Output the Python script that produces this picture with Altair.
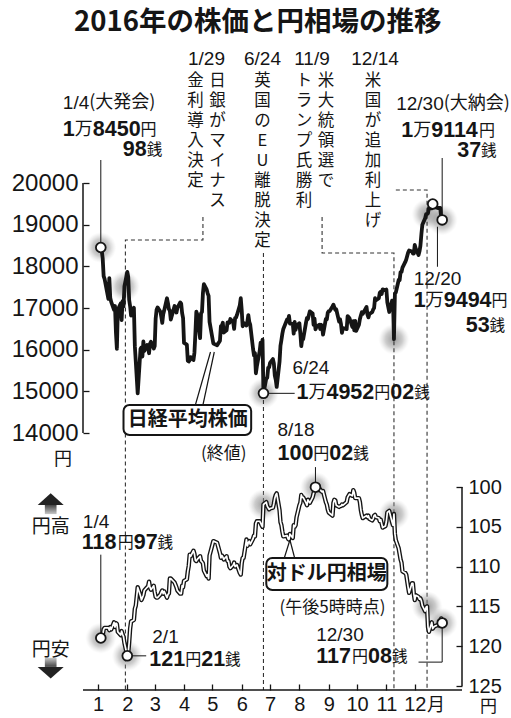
import altair as alt
import pandas as pd

LIB = "Liberation Sans"
CJK = "Noto Sans CJK JP"
INK = "#151515"

# ---------------- data ----------------
trade_dates = [
    "01-04","01-05","01-06","01-07","01-08","01-12","01-13","01-14","01-15","01-18","01-19","01-20","01-21","01-22","01-25","01-26","01-27","01-28","01-29",
    "02-01","02-02","02-03","02-04","02-05","02-08","02-09","02-10","02-12","02-15","02-16","02-17","02-18","02-19","02-22","02-23","02-24","02-25","02-26","02-29",
    "03-01","03-02","03-03","03-04","03-07","03-08","03-09","03-10","03-11","03-14","03-15","03-16","03-17","03-18","03-22","03-23","03-24","03-25","03-28","03-29","03-30","03-31",
    "04-01","04-04","04-05","04-06","04-07","04-08","04-11","04-12","04-13","04-14","04-15","04-18","04-19","04-20","04-21","04-22","04-25","04-26","04-27","04-28",
    "05-02","05-06","05-09","05-10","05-11","05-12","05-13","05-16","05-17","05-18","05-19","05-20","05-23","05-24","05-25","05-26","05-27","05-30","05-31",
    "06-01","06-02","06-03","06-06","06-07","06-08","06-09","06-10","06-13","06-14","06-15","06-16","06-17","06-20","06-21","06-22","06-23","06-24","06-27","06-28","06-29","06-30",
    "07-01","07-04","07-05","07-06","07-07","07-08","07-11","07-12","07-13","07-14","07-15","07-19","07-20","07-21","07-22","07-25","07-26","07-27","07-28","07-29",
    "08-01","08-02","08-03","08-04","08-05","08-08","08-09","08-10","08-12","08-15","08-16","08-17","08-18","08-19","08-22","08-23","08-24","08-25","08-26","08-29","08-30","08-31",
    "09-01","09-02","09-05","09-06","09-07","09-08","09-09","09-12","09-13","09-14","09-15","09-16","09-20","09-21","09-23","09-26","09-27","09-28","09-29","09-30",
    "10-03","10-04","10-05","10-06","10-07","10-11","10-12","10-13","10-14","10-17","10-18","10-19","10-20","10-21","10-24","10-25","10-26","10-27","10-28","10-31",
    "11-01","11-02","11-04","11-07","11-08","11-09","11-10","11-11","11-14","11-15","11-16","11-17","11-18","11-21","11-22","11-24","11-25","11-28","11-29","11-30",
    "12-01","12-02","12-05","12-06","12-07","12-08","12-09","12-12","12-13","12-14","12-15","12-16","12-19","12-20","12-21","12-22","12-26","12-27","12-28","12-29","12-30",
]

nikkei = [
    18450.98,18374,18191,17767,17697,17219,17715,17240,17147,16955,17048,16416,16017,16958,17110,16708,17163,17041,17518,
    17865,17750,17191,17044,16819,17004,16085,15713,14952.61,16022,16054,15836,16196,15967,16111,16052,15915,16140,16188,16026,
    16085,16746,16960,17014,16911,16783,16642,16852,16938,17233,17117,16974,16936,16724,17048,17000,16892,17002,17134,17103,16878,16758,
    16164,16123,15732,15715,15749,15821,15751,15928,16381,16911,16848,16275,16874,16906,17363,17572,17439,17353,17290,16666,
    16147,16106,16216,16565,16579,16646,16412,16466,16652,16644,16646,16736,16654,16498,16757,16772,16834,17068,17234,
    16955,16562,16642,16580,16675,16830,16668,16601,16019,15859,15919,15434,15599,15965,16169,16065,16238,14952.02,15309,15323,15566,15575,
    15682,15775,15669,15378,15276,15106,15708,16095,16231,16385,16497,16723,16681,16810,16627,16620,16383,16664,16476,16569,
    16635,16391,16083,16254,16254,16650,16764,16735,16919,16869,16596,16745,16486,16545,16598,16497,16597,16555,16360,16737,16725,16887,
    16926,16925,17037,17081,17012,16958,16965,16672,16729,16614,16405,16519,16492,16807,16754,16544,16683,16465,16693,16449,
    16598,16735,16819,16899,16860,17024,16840,16774,16856,16900,16963,16998,17235,17184,17234,17365,17391,17336,17446,17425,
    17442,17134,16905,17177,17171,16251.54,17344,17374,17672,17668,17862,17862,17967,18106,18162,18333,18381,18356,18307,18308,
    18513,18426,18274,18360,18496,18765,18996,19155,19250,19253,19273,19401,19391,19494.53,19444,19427,19396,19403,19401,19145,19114.37,
]

usdjpy = [
    118.97,119.3,118.6,117.9,117.7,117.7,118.0,117.6,117.9,117.0,117.6,117.1,117.2,118.2,118.6,118.1,118.5,118.8,119.6,
    121.21,120.8,119.5,117.8,116.9,116.7,115.3,114.9,112.6,113.7,114.2,113.9,113.6,113.0,112.6,112.5,111.9,112.6,112.9,112.4,
    113.2,113.8,113.9,113.9,113.5,113.2,113.0,113.4,113.1,113.9,113.5,113.4,111.5,111.5,112.0,112.3,112.6,113.0,113.4,113.4,112.4,112.6,
    111.8,111.6,110.6,109.9,108.5,108.7,108.0,108.4,109.2,109.3,109.1,108.7,109.3,109.4,109.6,110.5,111.2,111.0,111.5,108.6,
    106.8,107.0,108.3,108.9,108.6,108.8,109.1,108.7,109.3,109.3,110.0,110.2,109.8,109.5,110.0,109.9,109.8,110.8,111.0,
    109.6,108.9,108.9,106.6,107.4,107.0,106.8,107.2,106.5,106.1,106.2,104.6,104.3,104.3,104.5,104.8,105.0,102.2,101.9,102.4,102.6,102.8,
    102.7,102.6,102.1,101.4,101.0,100.8,102.9,104.4,104.8,105.6,106.2,106.1,106.5,106.6,105.9,106.4,104.8,105.0,104.8,103.8,
    102.3,102.0,101.0,101.3,101.3,102.0,102.3,101.6,102.0,101.3,100.8,100.5,100.02,100.3,100.4,100.3,100.5,100.6,100.5,101.9,102.2,102.8,
    103.2,103.3,103.6,102.0,101.6,101.7,102.3,102.5,102.4,102.4,102.2,102.3,101.9,101.3,100.9,101.1,100.4,100.7,101.4,101.4,
    101.4,101.9,102.9,103.5,103.9,103.6,103.8,103.6,104.0,104.2,104.0,103.6,103.5,103.8,103.9,104.3,104.1,104.6,105.1,104.9,
    104.3,103.2,103.0,104.4,104.8,103.4,105.9,106.7,107.7,108.4,109.1,109.5,110.6,110.8,111.0,112.6,113.3,112.1,112.1,113.4,
    114.2,113.6,113.8,114.1,114.0,114.3,114.9,115.6,115.1,115.0,117.6,118.2,117.0,117.8,117.6,117.5,117.3,117.4,117.4,116.5,117.08,
]

stock_ticks = [14000, 15000, 16000, 17000, 18000, 19000, 20000]
yen_ticks = [100, 105, 110, 115, 120, 125]
month_ticks = list(range(1, 13))

stock_halo_days = ["01-04", "01-29", "06-24", "11-09", "12-14", "12-30"]
stock_marker_days = ["01-04", "06-24", "12-20", "12-30"]
yen_halo_days = ["01-04", "02-01", "06-24", "08-18", "11-09", "12-14", "12-30"]
yen_marker_days = ["01-04", "02-01", "08-18", "12-30"]

title_text = "2016年の株価と円相場の推移"

# event: day, date label, label dx, [(column text, column dx)]
events = [
    ("01-29", "1/29", 82, [("日銀がマイナス", 93), ("金利導入決定", 71)]),
    ("06-24", "6/24", -1, [("英国のEU離脱決定", -1)]),
    ("11-09", "11/9", -82, [("米大統領選で", -68), ("トランプ氏勝利", -90)]),
    ("12-14", "12/14", -52, [("米国が追加利上げ", -54)]),
]

# labels pinned to data points: (day, [(start dx, dy, [(text, style), ...]), ...])
stock_notes = [
    ("01-04", [(-38, -145, [("1/4", "date"), ("(大発会)", "paren")]),
               (-38, -118, [("1", "num"), ("万", "unit"), ("8450", "num"), ("円", "yen")]),
               (22, -98, [("98", "num"), ("銭", "sen")])]),
    ("12-30", [(-46, -116, [("12/30", "date"), ("(大納会)", "paren")]),
               (-41, -89, [("1", "num"), ("万", "unit"), ("9114", "num"), ("円", "yen")]),
               (15, -69, [("37", "num"), ("銭", "sen")])]),
    ("12-20", [(-19, 75, [("12/20", "date")]),
               (-19, 97, [("1", "num"), ("万", "unit"), ("9494", "num"), ("円", "yen")]),
               (33, 122, [("53", "num"), ("銭", "sen")])]),
    ("06-24", [(29, -25, [("6/24", "date")]),
               (33, 0, [("1", "num"), ("万", "unit"), ("4952", "num"), ("円", "yen"), ("02", "num"), ("銭", "sen")])]),
]
yen_notes = [
    ("01-04", [(-18, -116, [("1/4", "date")]),
               (-19, -95, [("118", "num"), ("円", "yen"), ("97", "num"), ("銭", "sen")])]),
    ("02-01", [(25, -19, [("2/1", "date")]),
               (22, 4, [("121", "num"), ("円", "yen"), ("21", "num"), ("銭", "sen")])]),
    ("08-18", [(-38, -57, [("8/18", "date")]),
               (-38, -33, [("100", "num"), ("円", "yen"), ("02", "num"), ("銭", "sen")])]),
    ("12-30", [(-126, 12, [("12/30", "date")]),
               (-126, 34, [("117", "num"), ("円", "yen"), ("08", "num"), ("銭", "sen")])]),
]

STY = {
    "date": dict(font=LIB, fontSize=19),
    "num": dict(font=LIB, fontSize=21.5, fontWeight="bold"),
    "unit": dict(font=CJK, fontSize=18),
    "yen": dict(font=CJK, fontSize=16),
    "sen": dict(font=CJK, fontSize=15.5),
    "paren": dict(font=CJK, fontSize=18),
}


def est_width(text, style):
    fs = STY[style]["fontSize"]
    w = 0.0
    for ch in text:
        if ch.isdigit():
            w += 0.556 * fs
        elif ch == "/":
            w += 0.278 * fs
        elif ch in "()":
            w += 0.33 * fs
        else:
            w += 1.0 * fs
    return w


def ts(md, year=2016):
    return f"{year}-{md}T00:00:00"


S = dict(zip(trade_dates, nikkei))
Y = dict(zip(trade_dates, usdjpy))

# ---------------- scales & axes ----------------
xscale = alt.Scale(domain=[alt.DateTime(year=2015, month=12, date=16, hours=4),
                           alt.DateTime(year=2017, month=1, date=19, hours=23)])
sscale = alt.Scale(domain=[14000, 20000], range=[393, 143], zero=False, nice=False)
yscale = alt.Scale(domain=[100, 125], range=[447, 646], zero=False, nice=False)

xaxis = alt.Axis(values=[alt.DateTime(year=2016, month=m, date=1) for m in month_ticks],
                 labelExpr="month(datum.value)+1", orient="bottom", offset=-6, domain=False,
                 tickSize=6, tickWidth=1.3, tickColor=INK, labelFont=LIB, labelFontSize=20,
                 labelColor=INK, labelPadding=4, labelFlush=False, labelOverlap=False,
                 grid=False, title=None)
saxis = alt.Axis(values=stock_ticks, orient="left", offset=-6, domain=False, tickSize=6,
                 tickWidth=1.3, tickColor=INK, labelFont=LIB, labelFontSize=24, labelColor=INK,
                 labelPadding=5, labelFlush=False, labelOverlap=False, format="d", grid=False,
                 title=None)
yaxis = alt.Axis(values=yen_ticks, orient="right", offset=-6, domain=False, tickSize=6,
                 tickWidth=1.3, tickColor=INK, labelFont=LIB, labelFontSize=20, labelColor=INK,
                 labelPadding=6, labelFlush=False, labelOverlap=False, format="d", grid=False,
                 title=None)


def X():
    return alt.X("date:T", scale=xscale, axis=xaxis, title=None)


def YS():
    return alt.Y("v:Q", scale=sscale, axis=saxis, title=None)


def YY():
    return alt.Y("v:Q", scale=yscale, axis=yaxis, title=None)


halo = alt.RadialGradient(gradient="radial", stops=[
    alt.GradientStop(color="rgba(110,110,110,0.70)", offset=0),
    alt.GradientStop(color="rgba(140,140,140,0.45)", offset=0.55),
    alt.GradientStop(color="rgba(190,190,190,0)", offset=1)])


def pts(days, lookup):
    return pd.DataFrame({"date": [ts(d) for d in days], "v": [lookup[d] for d in days]})


def text_at(day, val, text, yenc, year=2016, align="left", baseline="middle", dx=0, dy=0, **style):
    df = pd.DataFrame({"date": [ts(day, year)], "v": [val], "t": [text]})
    return alt.Chart(df).mark_text(align=align, baseline=baseline, dx=dx, dy=dy, color=INK,
                                   **style).encode(x=X(), y=yenc(), text="t:N")


def note_layers(notes, lookup, yenc):
    out = []
    for day, lines in notes:
        for start, dy, parts in lines:
            dx = start
            for t, st in parts:
                out.append(text_at(day, lookup[day], t, yenc, dx=round(dx, 1), dy=dy, **STY[st]))
                dx += est_width(t, st)
    return out


def path_layer(rows, yenc, **style):
    df = pd.DataFrame([{"id": i, "o": j, "date": ts(d), "v": v}
                       for i, r in enumerate(rows) for j, (d, v) in enumerate(r)])
    return alt.Chart(df).mark_line(**style).encode(x=X(), y=yenc(), detail="id:N", order="o:Q")


def seg_layer(rows, yenc, **style):
    df = pd.DataFrame([{"date": ts(a), "v": b, "date2": ts(c), "v2": d} for a, b, c, d in rows])
    return alt.Chart(df).mark_rule(**style).encode(x=X(), y=yenc(), x2=alt.X2("date2"), y2=alt.Y2("v2"))


# ---------------- stock group ----------------
L = []
L.append(alt.Chart(pts(stock_halo_days, S)).mark_circle(size=950, fill=halo, opacity=1)
         .encode(x=X(), y=YS()))
# dashed event leaders
L.append(path_layer([
    [("04-21", 19184), ("04-21", 18632), ("01-30", 18632), ("01-30", 7832)],
    [("06-24", 18320), ("06-24", 7832)],
    [("08-25", 19184), ("08-25", 18320), ("11-09", 18320), ("11-09", 7832)],
    [("11-11", 19832), ("12-14", 19832), ("12-14", 7832)],
], YS, strokeDash=[4, 3], strokeWidth=1.1, color="#333"))
# solid leaders
L.append(path_layer([
    [("01-04", S["01-04"]), ("01-04", 20552)],
    [("12-30", S["12-30"]), ("12-30", 20600)],
    [("12-25", 18950), ("12-25", 17990)],
    [("06-24", S["06-24"]), ("07-27", S["06-24"])],
], YS, strokeWidth=1, color=INK))
# axis lines
L.append(alt.Chart(pd.DataFrame({"v": [14000], "v2": [20000]})).mark_rule(color=INK, strokeWidth=1.5)
         .encode(x=alt.value(0), y=YS(), y2=alt.Y2("v2")))
L.append(alt.Chart(pd.DataFrame({"v": [0]})).mark_rule(color=INK, strokeWidth=1.5)
         .encode(x=alt.value(0), x2=alt.value(379), y=alt.value(650)))
# nikkei line
L.append(alt.Chart(pd.DataFrame({"date": [ts(d) for d in trade_dates], "v": nikkei}))
         .mark_line(color=INK, strokeWidth=3.8, strokeJoin="round").encode(x=X(), y=YS()))
L.append(alt.Chart(pts(stock_marker_days, S)).mark_point(shape="circle", size=95, filled=True,
         fill="white", stroke=INK, strokeWidth=1.8, opacity=1).encode(x=X(), y=YS()))
# name box
L.append(seg_layer([("04-13", 14672, "04-29", 15944), ("04-21", 14672, "05-03", 15944)], YS,
                   color=INK, strokeWidth=1.2))
L.append(alt.Chart(pd.DataFrame({"date": [ts("01-28")], "v": [14672], "date2": [ts("06-11")], "v2": [13952]}))
         .mark_rect(fill="white", stroke=INK, strokeWidth=2, cornerRadius=6)
         .encode(x=X(), y=YS(), x2=alt.X2("date2"), y2=alt.Y2("v2")))
L.append(text_at("04-05", 14312, "日経平均株価", YS, align="center", font=CJK, fontSize=20, fontWeight="bold"))
L.append(text_at("05-13", 13496, "(終値)", YS, align="center", font=CJK, fontSize=17))
L.extend(note_layers(stock_notes, S, YS))
# event labels (vertical columns set one character per row)
for day, lab, ldx, cols in events:
    L.append(text_at(day, 20000, lab, YS, align="center", dx=ldx, dy=-124, font=LIB, fontSize=19))
    for txt, cdx in cols:
        for i, ch in enumerate(txt):
            L.append(text_at(day, 20000, ch, YS, align="center", baseline="top", dx=cdx,
                             dy=-110 + i * 20, font=CJK, fontSize=16.5))
# title and unit
L.append(text_at("06-18", 23840, title_text, YS, align="center", font=CJK, fontSize=27.5, fontWeight="bold"))
L.append(text_at("11-25", 13352, "円", YS, year=2015, align="center", font=CJK, fontSize=18))
stock_group = alt.layer(*L)

# ---------------- yen group ----------------
M = []
M.append(alt.Chart(pts(yen_halo_days, Y)).mark_circle(size=950, fill=halo, opacity=1)
         .encode(x=X(), y=YY()))
M.append(path_layer([
    [("01-04", Y["01-04"]), ("01-04", 108.5)],
    [("02-01", Y["02-01"]), ("02-21", Y["02-01"])],
    [("08-18", Y["08-18"]), ("08-18", 97.5)],
    [("12-30", Y["12-30"]), ("12-30", 122.0), ("12-05", 122.0)],
], YY, strokeWidth=1, color=INK))
M.append(alt.Chart(pd.DataFrame({"v": [100], "v2": [125]})).mark_rule(color=INK, strokeWidth=1.5)
         .encode(x=alt.value(379), y=YY(), y2=alt.Y2("v2")))
yen_df = pd.DataFrame({"date": [ts(d) for d in trade_dates], "v": usdjpy})
M.append(alt.Chart(yen_df).mark_line(color=INK, strokeWidth=4.4, strokeJoin="round").encode(x=X(), y=YY()))
M.append(alt.Chart(yen_df).mark_line(color="white", strokeWidth=1.7, strokeJoin="round").encode(x=X(), y=YY()))
M.append(alt.Chart(pts(yen_marker_days, Y)).mark_point(shape="circle", size=95, filled=True,
         fill="white", stroke=INK, strokeWidth=1.8, opacity=1).encode(x=X(), y=YY()))
M.append(seg_layer([("07-16", 108.92, "07-22", 106.66), ("07-27", 108.92, "07-22", 106.66)], YY,
                   color=INK, strokeWidth=1.2))
M.append(alt.Chart(pd.DataFrame({"date": [ts("06-27")], "v": [108.92], "date2": [ts("11-02")], "v2": [112.94]}))
         .mark_rect(fill="white", stroke=INK, strokeWidth=2, cornerRadius=6)
         .encode(x=X(), y=YY(), x2=alt.X2("date2"), y2=alt.Y2("v2")))
M.append(text_at("08-30", 110.93, "対ドル円相場", YY, align="center", font=CJK, fontSize=20, fontWeight="bold"))
M.append(text_at("09-05", 115.2, "(午後5時時点)", YY, align="center", font=CJK, fontSize=17))
M.extend(note_layers(yen_notes, Y, YY))
# yen-direction arrows
up_df = pd.DataFrame({"date": [ts("11-12", 2015)], "v": [102.26]})
dn_df = pd.DataFrame({"date": [ts("11-12", 2015)], "v": [122.6]})
stem_up = alt.LinearGradient(gradient="linear", x1=0, x2=0, y1=0, y2=1, stops=[
    alt.GradientStop(color="#444", offset=0), alt.GradientStop(color="#c8c8c8", offset=1)])
stem_dn = alt.LinearGradient(gradient="linear", x1=0, x2=0, y1=0, y2=1, stops=[
    alt.GradientStop(color="#c8c8c8", offset=0), alt.GradientStop(color="#444", offset=1)])
M.append(alt.Chart(up_df).mark_point(shape="M-1,0L0,-0.9L1,0Z", size=676, filled=True, fill="#222", opacity=1)
         .encode(x=X(), y=YY()))
M.append(alt.Chart(up_df).mark_point(shape="M-0.45,0L0.45,0L0.45,0.7L-0.45,0.7Z", size=676, filled=True,
         fill=stem_up, opacity=1).encode(x=X(), y=YY()))
M.append(alt.Chart(dn_df).mark_point(shape="M-1,0L0,0.9L1,0Z", size=676, filled=True, fill="#222", opacity=1)
         .encode(x=X(), y=YY()))
M.append(alt.Chart(dn_df).mark_point(shape="M-0.45,-0.7L0.45,-0.7L0.45,0L-0.45,0Z", size=676, filled=True,
         fill=stem_dn, opacity=1).encode(x=X(), y=YY()))
M.append(text_at("11-12", 105.0, "円高", YY, year=2015, align="center", font=CJK, fontSize=19))
M.append(text_at("11-12", 120.5, "円安", YY, year=2015, align="center", font=CJK, fontSize=19))
M.append(text_at("02-17", 127.6, "円", YY, year=2017, align="center", font=CJK, fontSize=17))
M.append(text_at("12-14", 127.5, "月", YY, align="left", font=CJK, fontSize=18))
yen_group = alt.layer(*M)

chart = (
    alt.layer(stock_group, yen_group)
    .resolve_scale(y="independent")
    .properties(width=379, height=650,
                autosize=alt.AutoSizeParams(type="none"),
                padding={"left": 83, "top": 40, "right": 49, "bottom": 28},
                background="white")
    .configure_view(stroke=None)
)

chart.save("out.html", embed_options={"renderer": "svg", "actions": False})
